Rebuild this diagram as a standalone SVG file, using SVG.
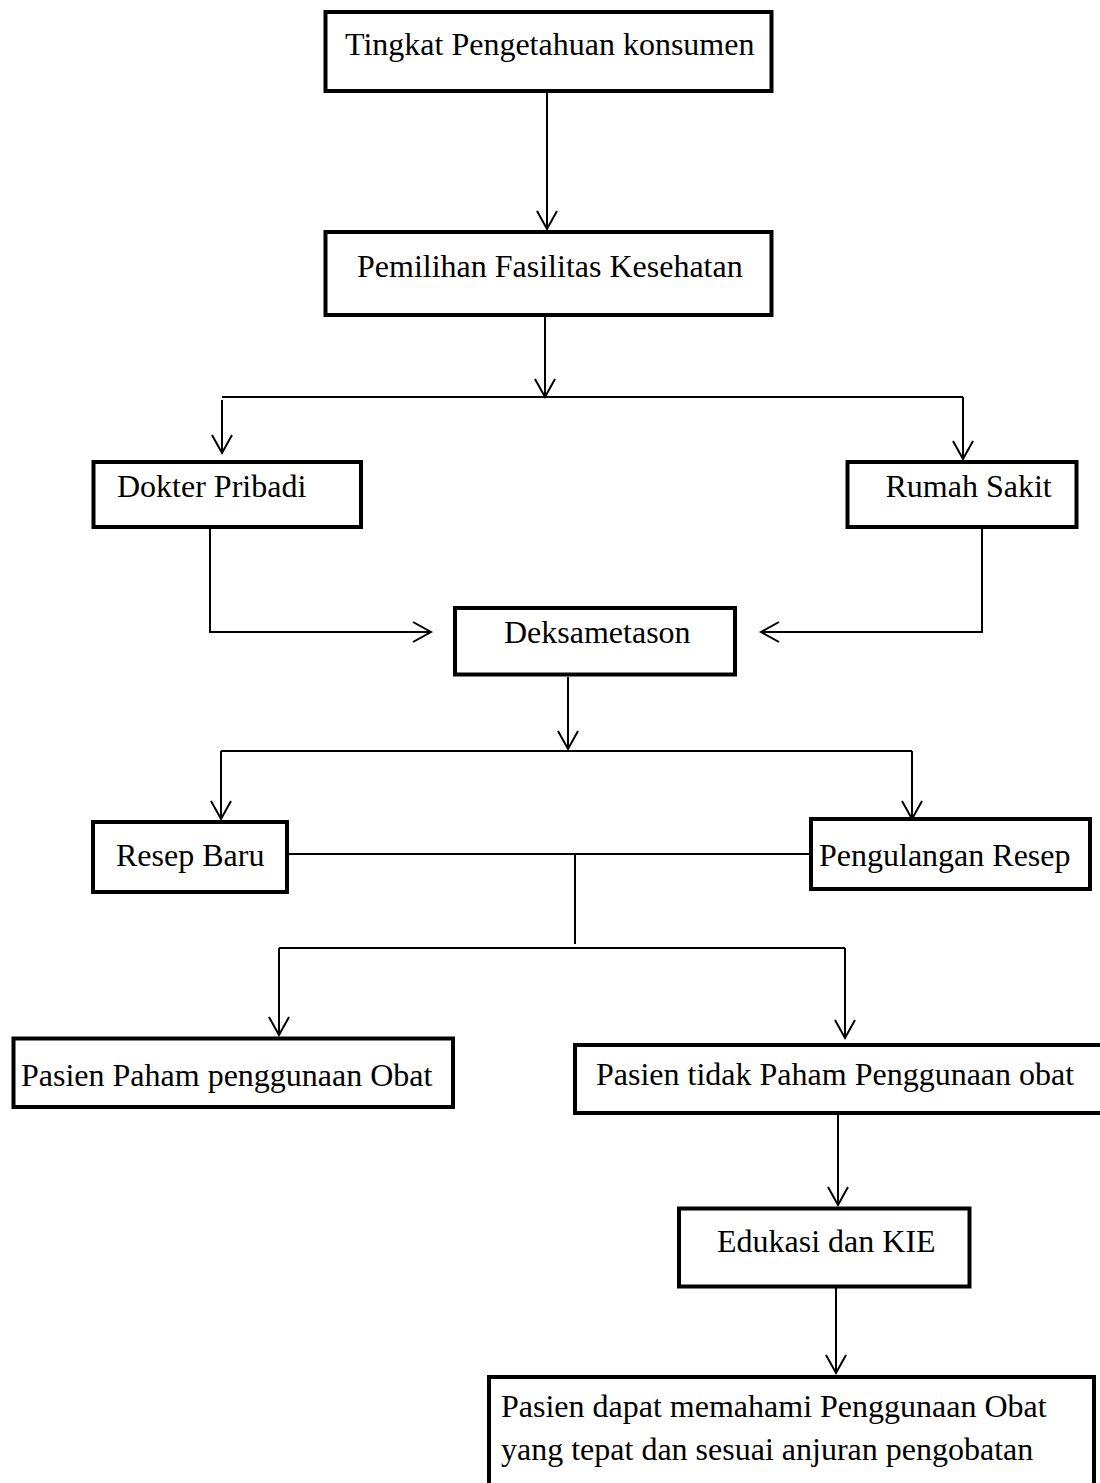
<svg xmlns="http://www.w3.org/2000/svg" width="1100" height="1483" viewBox="0 0 1100 1483">
<style>
.box{fill:#fff;stroke:#000;stroke-width:4}
.lbl{font-family:"Liberation Serif","Times New Roman",serif;font-size:32px;fill:#000}
.con{fill:none;stroke:#000;stroke-width:2}
</style>
<defs>
<marker id="arr" markerUnits="userSpaceOnUse" markerWidth="24" markerHeight="24" refX="20" refY="11" orient="auto">
<path d="M2,1 L20,11 L2,21" fill="none" stroke="#000" stroke-width="2"/>
</marker>
</defs>
<rect width="1100" height="1483" fill="#fff"/>
<g id="connectors">
<line class="con" x1="547" y1="93" x2="547" y2="229" marker-end="url(#arr)"/>
<line class="con" x1="545" y1="317" x2="545" y2="397" marker-end="url(#arr)"/>
<line class="con" x1="222" y1="397" x2="963" y2="397"/>
<line class="con" x1="222" y1="400" x2="222" y2="453" marker-end="url(#arr)"/>
<line class="con" x1="963" y1="397" x2="963" y2="459" marker-end="url(#arr)"/>
<polyline class="con" points="210,529 210,632 431,632" marker-end="url(#arr)"/>
<polyline class="con" points="982,529 982,632 761,632" marker-end="url(#arr)"/>
<line class="con" x1="568" y1="677" x2="568" y2="749" marker-end="url(#arr)"/>
<line class="con" x1="221" y1="751" x2="912" y2="751"/>
<line class="con" x1="221" y1="751" x2="221" y2="819" marker-end="url(#arr)"/>
<line class="con" x1="912" y1="751" x2="912" y2="819" marker-end="url(#arr)"/>
<line class="con" x1="289" y1="854" x2="809" y2="854"/>
<line class="con" x1="575" y1="854" x2="575" y2="944"/>
<line class="con" x1="279" y1="948" x2="845" y2="948"/>
<line class="con" x1="279" y1="948" x2="279" y2="1035" marker-end="url(#arr)"/>
<line class="con" x1="845" y1="948" x2="845" y2="1038" marker-end="url(#arr)"/>
<line class="con" x1="838" y1="1115" x2="838" y2="1205" marker-end="url(#arr)"/>
<line class="con" x1="836" y1="1288" x2="836" y2="1373" marker-end="url(#arr)"/>
</g>
<g id="n1"><rect class="box" x="325.5" y="12" width="446" height="79"/><text class="lbl" x="345" y="55">Tingkat Pengetahuan konsumen</text></g>
<g id="n2"><rect class="box" x="325.5" y="232" width="446" height="83"/><text class="lbl" x="357" y="277">Pemilihan Fasilitas Kesehatan</text></g>
<g id="n3"><rect class="box" x="93.5" y="462" width="267.5" height="65"/><text class="lbl" x="117" y="497">Dokter Pribadi</text></g>
<g id="n4"><rect class="box" x="847.5" y="462" width="229" height="65"/><text class="lbl" x="885.5" y="497">Rumah Sakit</text></g>
<g id="n5"><rect class="box" x="455" y="608" width="280" height="66.5"/><text class="lbl" x="504" y="643">Deksametason</text></g>
<g id="n6"><rect class="box" x="93" y="822" width="194" height="70"/><text class="lbl" x="116" y="866">Resep Baru</text></g>
<g id="n7"><rect class="box" x="811" y="819" width="279" height="70"/><text class="lbl" x="819" y="866">Pengulangan Resep</text></g>
<g id="n8"><rect class="box" x="13.5" y="1038.5" width="439.5" height="68.5"/><text class="lbl" x="21" y="1086">Pasien Paham penggunaan Obat</text></g>
<g id="n9"><rect class="box" x="575" y="1045" width="540" height="68"/><text class="lbl" x="596" y="1085">Pasien tidak Paham Penggunaan obat</text></g>
<g id="n10"><rect class="box" x="679" y="1208.5" width="290.5" height="78"/><text class="lbl" x="717" y="1252">Edukasi dan KIE</text></g>
<g id="n11"><rect class="box" x="489" y="1377" width="605" height="200"/><text class="lbl" x="501" y="1417">Pasien dapat memahami Penggunaan Obat</text><text class="lbl" x="501" y="1460">yang tepat dan sesuai anjuran pengobatan</text></g>
</svg>
